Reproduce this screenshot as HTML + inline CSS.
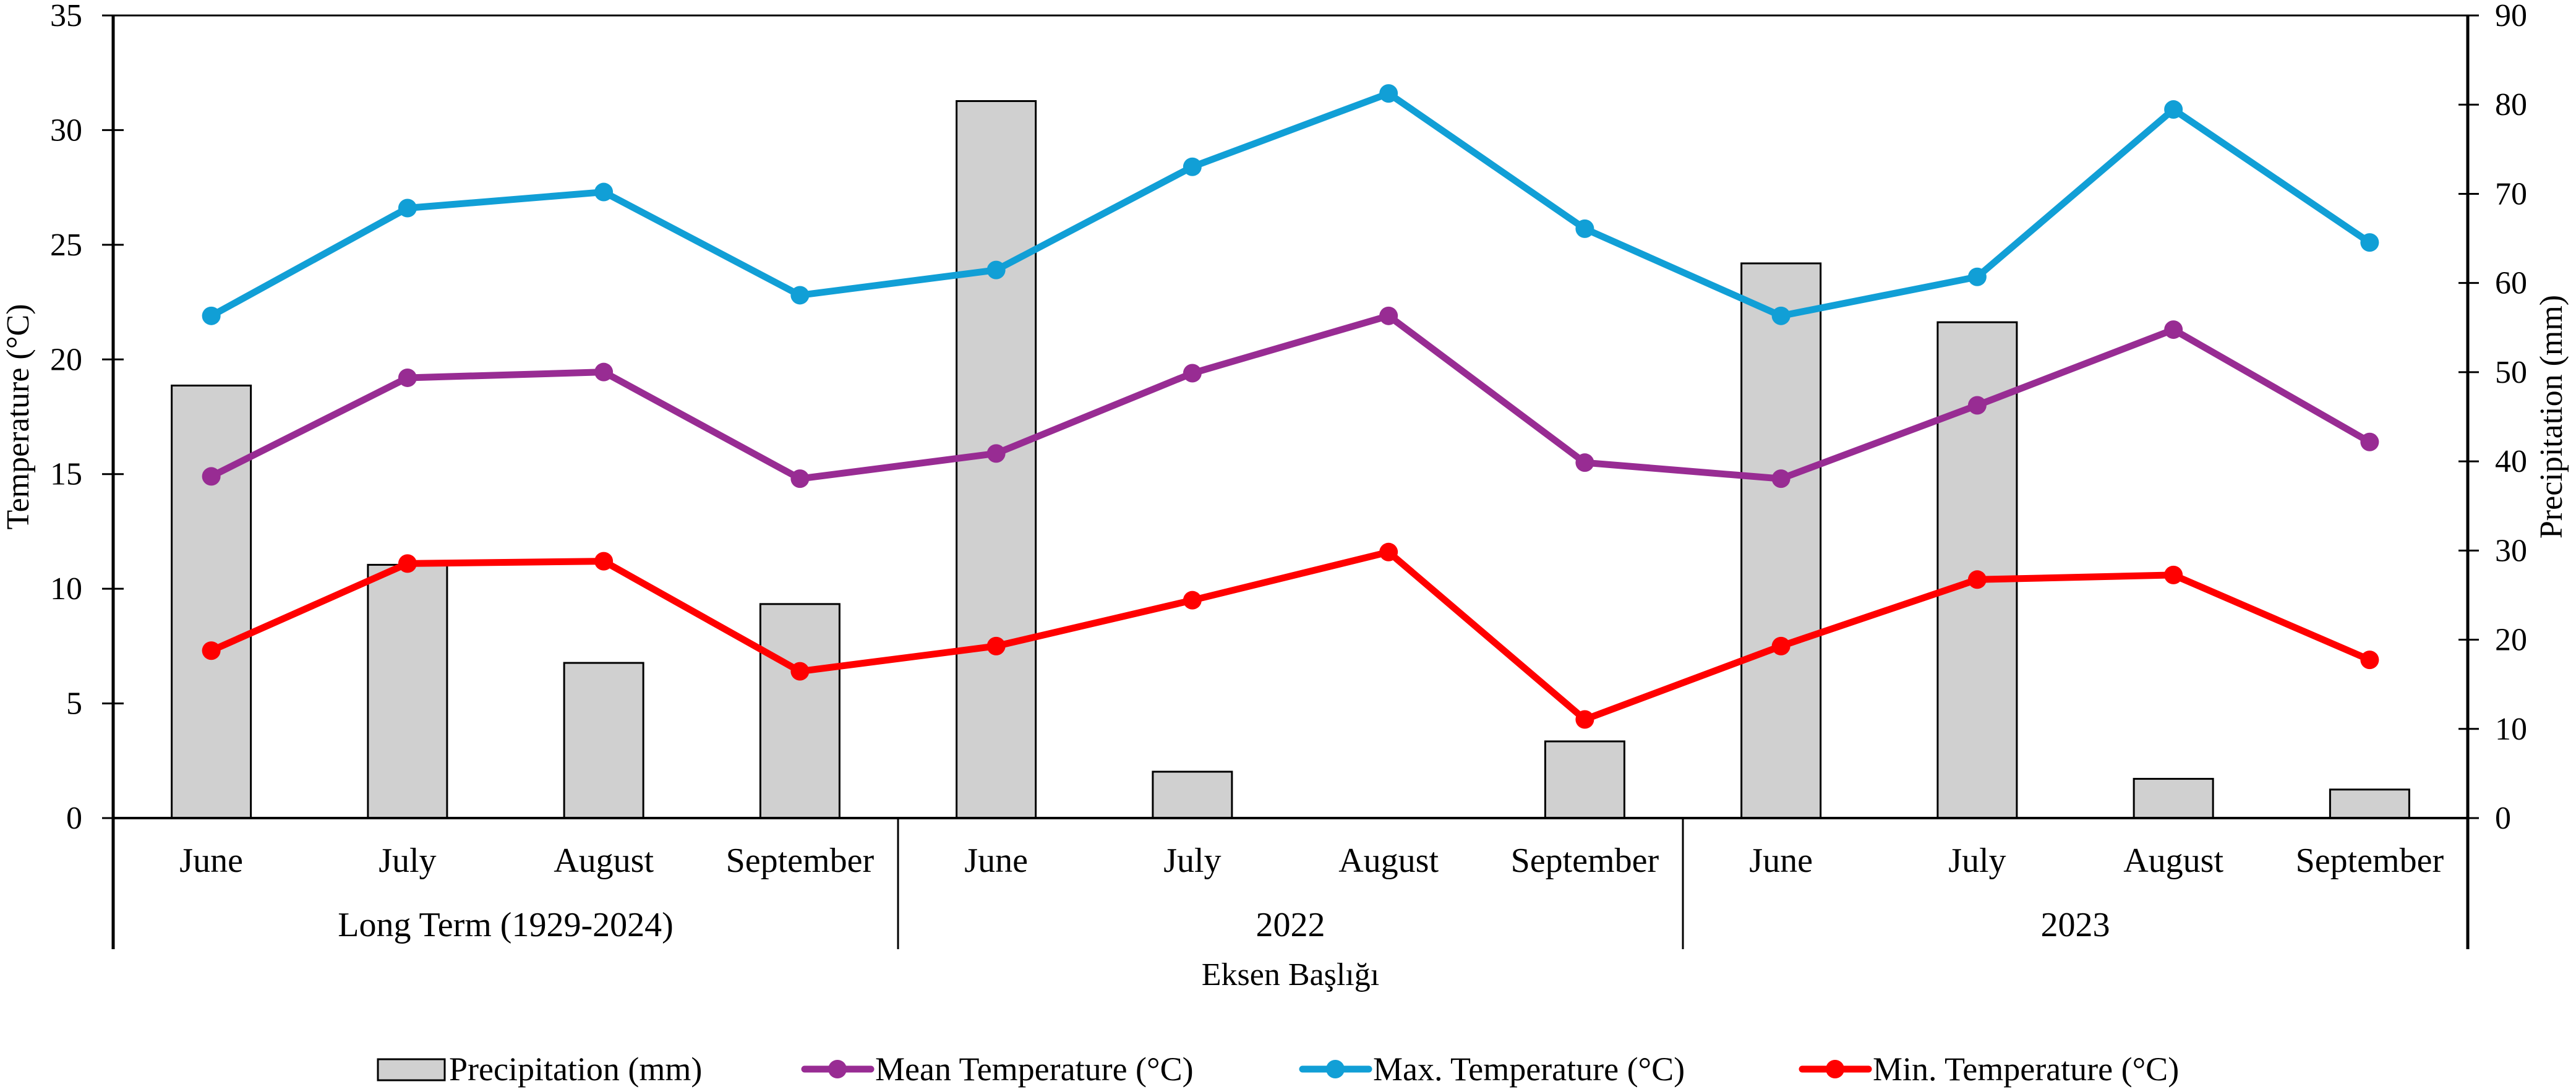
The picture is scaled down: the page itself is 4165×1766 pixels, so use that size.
<!DOCTYPE html>
<html><head><meta charset="utf-8"><style>
html,body{margin:0;padding:0;background:#fff;}
svg{display:block;font-family:"Liberation Serif",serif;}
</style></head><body>
<svg id="chart" width="4165" height="1766" viewBox="0 0 4165 1766" xmlns="http://www.w3.org/2000/svg">
</svg>
<script>
const months = ["June","July","August","September","June","July","August","September","June","July","August","September"];
const groups = ["Long Term (1929-2024)","2022","2023"];
const precip = [48.5,28.4,17.4,24.0,80.4,5.2,0,8.6,62.2,55.6,4.4,3.2];
const meanT = [14.9,19.2,19.45,14.8,15.9,19.4,21.9,15.5,14.8,18.0,21.3,16.4];
const maxT = [21.9,26.6,27.3,22.8,23.9,28.4,31.6,25.7,21.9,23.6,30.9,25.1];
const minT = [7.3,11.1,11.2,6.4,7.5,9.5,11.6,4.3,7.5,10.4,10.6,6.9];
const leftTicks = [0,5,10,15,20,25,30,35];
const rightTicks = [0,10,20,30,40,50,60,70,80,90];

const NS="http://www.w3.org/2000/svg";
const svg=document.getElementById('chart');
const L=183,R=3990,T=25,B=1323;
const n=months.length, cw=(R-L)/n;
const xc=i=>L+cw*(i+0.5);
const yT=v=>B-(v/35)*(B-T);
const yP=v=>B-(v/90)*(B-T);
function el(tag,attrs,parent){const e=document.createElementNS(NS,tag);for(const k in attrs)e.setAttribute(k,attrs[k]);(parent||svg).appendChild(e);return e;}
function txt(s,attrs){const e=el('text',attrs);e.textContent=s;return e;}

precip.forEach((v,i)=>{
  const y=yP(v);
  const r=el('rect',{x:xc(i)-64,y:y,width:128,height:B-y,fill:'#d0d0d0',stroke:'#000','stroke-width':3});
  
  
});
const tb=el('line',{x1:L,y1:T,x2:R,y2:T,stroke:'#000','stroke-width':3});


const xa=el('line',{x1:L,y1:B,x2:R,y2:B,stroke:'#000','stroke-width':4});


const la=el('line',{x1:L,y1:T,x2:L,y2:1535,stroke:'#000','stroke-width':5});


const ra=el('line',{x1:R,y1:T,x2:R,y2:1535,stroke:'#000','stroke-width':5});


[1,2].forEach(g=>{
  const s=el('line',{x1:L+cw*4*g,y1:B,x2:L+cw*4*g,y2:1535,stroke:'#000','stroke-width':3});
  
  
});
leftTicks.forEach(v=>{
  const y=yT(v);
  const t=el('line',{x1:165,y1:y,x2:200,y2:y,stroke:'#000','stroke-width':3});
  
  
  const l=txt(String(v),{x:133,y:y+17,'text-anchor':'end','font-size':52});
  
  
});
rightTicks.forEach(v=>{
  const y=yP(v);
  const t=el('line',{x1:3975,y1:y,x2:4008,y2:y,stroke:'#000','stroke-width':3});
  
  
  const l=txt(String(v),{x:4034,y:y+17,'text-anchor':'start','font-size':52});
  
  
});
months.forEach((m,i)=>{
  const l=txt(m,{x:xc(i),y:1410,'text-anchor':'middle','font-size':56});
  
  
});
groups.forEach((g,i)=>{
  const l=txt(g,{x:L+cw*(4*i+2),y:1514,'text-anchor':'middle','font-size':56});
  
  
});
const xt=txt('Eksen Başlığı',{x:(L+R)/2,y:1593,'text-anchor':'middle','font-size':52});


const yl=txt('Temperature (°C)',{x:0,y:0,'text-anchor':'middle','font-size':52,transform:'translate(46,674) rotate(-90)'});


const yr=txt('Precipitation (mm)',{x:0,y:0,'text-anchor':'middle','font-size':52,transform:'translate(4142,674) rotate(-90)'});



function series(vals,color,name){
  const pts=vals.map((v,i)=>xc(i)+','+yT(v)).join(' ');
  const p=el('polyline',{points:pts,fill:'none',stroke:color,'stroke-width':11,'stroke-linejoin':'round'});
  
  
  vals.forEach((v,i)=>{
    const c=el('circle',{cx:xc(i),cy:yT(v),r:15,fill:color});
    
    
  });
}
series(maxT,'#119fd6','max-temp');
series(meanT,'#982c93','mean-temp');
series(minT,'#ff0000','min-temp');

const LY=1729;
const sw=el('rect',{x:611,y:LY-16,width:108,height:34,fill:'#d0d0d0',stroke:'#000','stroke-width':3});


const lt=txt('Precipitation (mm)',{x:726,y:LY+18,'font-size':54});


[[1301,'#982c93','Mean Temperature (°C)','mean'],[2106,'#119fd6','Max. Temperature (°C)','max'],[2914,'#ff0000','Min. Temperature (°C)','min']].forEach(d=>{
  const ln=el('line',{x1:d[0],y1:LY,x2:d[0]+107,y2:LY,stroke:d[1],'stroke-width':11,'stroke-linecap':'round'});
  
  
  const c=el('circle',{cx:d[0]+53,cy:LY,r:15,fill:d[1]});
  
  
  const t=txt(d[2],{x:d[0]+114,y:LY+18,'font-size':54});
  
  
});
</script>
</body></html>
